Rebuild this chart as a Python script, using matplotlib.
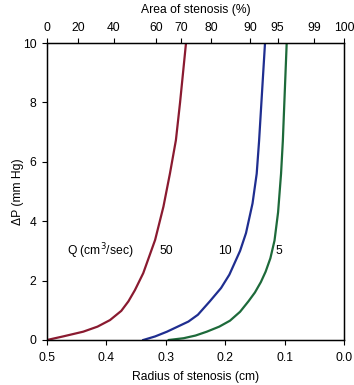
import matplotlib
matplotlib.use('Agg')
import matplotlib.pyplot as plt
import numpy as np

plt.rcParams['font.family'] = ['Liberation Sans', 'DejaVu Sans']

# 读取的数据点: 半径 (cm) 与压降 ΔP (mm Hg)
r_50 = [0.500, 0.473, 0.439, 0.415, 0.394, 0.375, 0.363, 0.352, 0.338, 0.318, 0.304, 0.293, 0.283, 0.276, 0.266]
p_50 = [0.00, 0.12, 0.28, 0.45, 0.67, 0.98, 1.30, 1.68, 2.25, 3.37, 4.49, 5.61, 6.73, 8.00, 10.0]

r_10 = [0.338, 0.318, 0.298, 0.280, 0.262, 0.246, 0.226, 0.207, 0.193, 0.175, 0.165, 0.154, 0.147, 0.143, 0.133]
p_10 = [0.00, 0.12, 0.28, 0.45, 0.62, 0.85, 1.30, 1.75, 2.20, 3.00, 3.60, 4.60, 5.60, 6.70, 10.0]

r_5 = [0.295, 0.270, 0.250, 0.231, 0.210, 0.192, 0.175, 0.161, 0.150, 0.140, 0.132, 0.124, 0.117, 0.111, 0.106, 0.103, 0.0965]
p_5 = [0.00, 0.06, 0.15, 0.28, 0.45, 0.65, 0.95, 1.30, 1.60, 1.95, 2.30, 2.75, 3.35, 4.30, 5.60, 6.70, 10.0]

radius_ticks = [0.5, 0.4, 0.3, 0.2, 0.1, 0.0]
dp_ticks = [0, 2, 4, 6, 8, 10]
area_ticks = [0, 20, 40, 60, 70, 80, 90, 95, 99, 100]

c_red = '#8a1a30'
c_blue = '#1f2e90'
c_green = '#1d6a3a'

fig = plt.figure(figsize=(3.54, 3.85), dpi=100)
ax = fig.add_axes([0.1328, 0.1169, 0.8390, 0.7714])

ax.plot(r_50, p_50, color=c_red, lw=1.6, solid_joinstyle='round')
ax.plot(r_10, p_10, color=c_blue, lw=1.6, solid_joinstyle='round')
ax.plot(r_5, p_5, color=c_green, lw=1.6, solid_joinstyle='round')

ax.set_xlim(0.5, 0.0)
ax.set_ylim(0, 10)
ax.set_xticks(radius_ticks)
ax.set_xticklabels(['%.1f' % v for v in radius_ticks])
ax.set_yticks(dp_ticks)

fs = 8.7
ax.tick_params(direction='out', length=3.5, width=0.8, labelsize=fs, pad=4)
ax.tick_params(axis='x', pad=5)
for s in ax.spines.values():
    s.set_linewidth(1.0)

ax.set_xlabel('Radius of stenosis (cm)', fontsize=fs, labelpad=5)
ax.set_ylabel('ΔP (mm Hg)', fontsize=fs, labelpad=-1)

# 顶部面积轴: 面积百分比对应的半径
ax2 = ax.twiny()
ax2.set_xlim(ax.get_xlim())
area_pos = [0.5 * np.sqrt(1 - a / 100.0) for a in area_ticks]
ax2.set_xticks(area_pos)
ax2.set_xticklabels([str(a) for a in area_ticks])
ax2.tick_params(direction='out', length=3.5, width=0.8, labelsize=fs, pad=3)
ax2.set_xlabel('Area of stenosis (%)', fontsize=fs, labelpad=6.5)

# 曲线标注
ax.text(0.466, 3.0, 'Q (cm$^3$/sec)', fontsize=fs, va='center', ha='left')
ax.text(0.310, 3.0, '50', fontsize=fs, va='center', ha='left')
ax.text(0.200, 3.0, '10', fontsize=fs, va='center', ha='center')
ax.text(0.115, 3.0, '5', fontsize=fs, va='center', ha='left')

plt.savefig('out.png', dpi=100)
